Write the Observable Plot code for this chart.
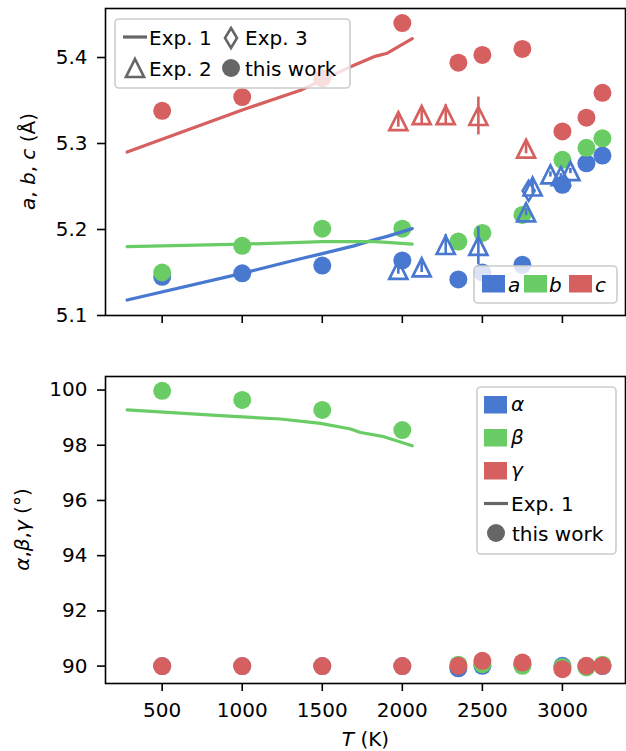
<!DOCTYPE html>
<html>
<head>
<meta charset="utf-8">
<script src="https://cdn.jsdelivr.net/npm/d3@7"></script>
<script src="https://cdn.jsdelivr.net/npm/@observablehq/plot@0.6"></script>
<style>
  body { margin: 0; background: #fff; }
  #chart { width: 626px; }
  #chart svg { display: block; }
</style>
</head>
<body>
<div id="chart"></div>
<script>
// Palette (seaborn "muted")
const blue = "#4878d0", green = "#6acc64", red = "#d65f5f", gray = "#666666";
const font = "DejaVu Sans";

// ---- this work: simulated lattice parameters ----
const simT = [500, 1000, 1500, 2000, 2350, 2500, 2750, 3000, 3150, 3250];
const simA = [5.145, 5.149, 5.158, 5.164, 5.142, 5.150, 5.159, 5.252, 5.277, 5.286];
const simB = [5.150, 5.181, 5.201, 5.201, 5.186, 5.196, 5.217, 5.281, 5.295, 5.306];
const simC = [5.338, 5.354, 5.376, 5.440, 5.394, 5.403, 5.410, 5.314, 5.330, 5.359];
const simAlpha = [90.00, 90.00, 90.00, 90.00, 89.92, 90.01, 90.05, 90.01, 90.00, 90.00];
const simBeta  = [99.97, 99.64, 99.28, 98.55, 90.05, 90.07, 90.01, 89.97, 89.95, 90.05];
const simGamma = [90.00, 90.00, 90.00, 90.00, 90.01, 90.19, 90.13, 89.89, 90.01, 90.01];

// ---- Exp. 1: continuous curves ----
const exp1T = [281, 1000, 1364, 1500, 1698, 1823, 1906, 2062];
const exp1A = [5.118, 5.149, 5.166, 5.172, 5.181, 5.188, 5.192, 5.201];
const exp1B = [5.180, 5.183, 5.185, 5.186, 5.186, 5.186, 5.185, 5.183];
const exp1C = [5.290, 5.339, 5.362, 5.374, 5.391, 5.401, 5.405, 5.422];
const exp1BetaT = [281, 864, 1239, 1489, 1677, 1739, 1885, 2062];
const exp1Beta  = [99.28, 99.07, 98.95, 98.79, 98.59, 98.46, 98.31, 97.98];

// ---- Exp. 2: points with error bars ----
const exp2AT = [1975, 2121, 2271, 2475, 2773, 2814, 2925, 2990, 3050];
const exp2A  = [5.153, 5.156, 5.182, 5.181, 5.220, 5.250, 5.264, 5.262, 5.268];
const exp2AErr = [0.005, 0.006, 0.012, 0.022, 0.004, 0.008, 0.003, 0.003, 0.003];
const exp2CT = [1975, 2121, 2271, 2475, 2773];
const exp2C  = [5.326, 5.333, 5.333, 5.332, 5.294];
const exp2CErr = [0.007, 0.010, 0.012, 0.022, 0.006];

// ---- Exp. 3 ----
const exp3T = [2789];
const exp3A = [5.245];

// Tick values
const xTicks = [500, 1000, 1500, 2000, 2500, 3000];
const yTicksTop = [5.1, 5.2, 5.3, 5.4];
const yTicksBottom = [90, 92, 94, 96, 98, 100];

const rows = (T, v, e) => T.map((t, i) => ({T: t, v: v[i], e: e ? e[i] : 0}));

// matplotlib-style marker shapes
const triangleUp = {
  draw(ctx, size) {
    const r = Math.sqrt(size / Math.PI);
    ctx.moveTo(0, -r); ctx.lineTo(r, r); ctx.lineTo(-r, r); ctx.closePath();
  }
};
const thinDiamond = {
  draw(ctx, size) {
    const r = Math.sqrt(size / Math.PI);
    ctx.moveTo(0, -r); ctx.lineTo(0.6 * r, 0); ctx.lineTo(0, r); ctx.lineTo(-0.6 * r, 0); ctx.closePath();
  }
};

const xDomain = [146, 3394];
const baseStyle = {fontFamily: font, fontSize: "20px", background: "white", color: "black", overflow: "visible"};

const dots = (T, v, fill) => Plot.dot(rows(T, v), {x: "T", y: "v", r: 9, fill, stroke: null});
const curve = (T, v, stroke) => Plot.line(rows(T, v), {x: "T", y: "v", stroke, strokeWidth: 3.2});
const errs = (T, v, e, stroke) => Plot.ruleX(rows(T, v, e), {x: "T", y1: d => d.v - d.e, y2: d => d.v + d.e, stroke, strokeWidth: 2.6});
const tris = (T, v, stroke) => Plot.dot(rows(T, v), {x: "T", y: "v", r: 9, symbol: triangleUp, fill: "none", stroke, strokeWidth: 2.7});

// ---------- top panel: a, b, c ----------
const topChart = Plot.plot({
  width: 626, height: 345,
  marginLeft: 105, marginRight: 1, marginTop: 8, marginBottom: 30,
  style: baseStyle,
  x: {domain: xDomain},
  y: {domain: [5.1, 5.457]},
  marks: [
    dots(simT, simA, blue),
    dots(simT, simB, green),
    dots(simT, simC, red),
    curve(exp1T, exp1A, blue),
    curve(exp1T, exp1B, green),
    curve(exp1T, exp1C, red),
    errs(exp2AT, exp2A, exp2AErr, blue),
    tris(exp2AT, exp2A, blue),
    errs(exp2CT, exp2C, exp2CErr, red),
    tris(exp2CT, exp2C, red),
    Plot.dot(rows(exp3T, exp3A), {x: "T", y: "v", r: 10, symbol: thinDiamond, fill: "none", stroke: blue, strokeWidth: 2.6}),
    Plot.axisY(yTicksTop, {tickSize: 8, tickPadding: 10, tickFormat: d => d.toFixed(1), label: null, strokeWidth: 1.6, fontSize: 20}),
    Plot.axisX(xTicks, {tickSize: 8, tickFormat: () => "", label: null, strokeWidth: 1.6}),
    Plot.frame({stroke: "black", strokeWidth: 1.6})
  ]
});

// ---------- bottom panel: alpha, beta, gamma ----------
const bottomChart = Plot.plot({
  width: 626, height: 406,
  marginLeft: 105, marginRight: 1, marginTop: 31, marginBottom: 68,
  style: baseStyle,
  x: {domain: xDomain},
  y: {domain: [89.37, 100.49]},
  marks: [
    dots(simT, simAlpha, blue),
    dots(simT, simBeta, green),
    dots(simT, simGamma, red),
    curve(exp1BetaT, exp1Beta, green),
    Plot.axisY(yTicksBottom, {tickSize: 8, tickPadding: 10, label: null, strokeWidth: 1.6, fontSize: 20}),
    Plot.axisX(xTicks, {tickSize: 8, tickPadding: 11, tickFormat: d => String(d), label: null, strokeWidth: 1.6, fontSize: 20}),
    Plot.frame({stroke: "black", strokeWidth: 1.6})
  ]
});

document.getElementById("chart").append(topChart, bottomChart);

// ---------- labels and legends ----------
function richText(svg, x, y, parts, opts = {}) {
  const t = svg.append("text")
    .attr("x", x).attr("y", y)
    .attr("font-family", font).attr("font-size", opts.size || 20)
    .attr("fill", "black")
    .attr("text-anchor", opts.anchor || "start");
  if (opts.rotate) t.attr("transform", `rotate(-90 ${x} ${y})`).attr("dy", "0.35em");
  for (const [s, italic] of parts) {
    t.append("tspan").attr("font-style", italic ? "italic" : "normal").text(s);
  }
  return t;
}
function box(g, x, y, w, h) {
  g.append("rect").attr("x", x).attr("y", y).attr("width", w).attr("height", h)
    .attr("rx", 4).attr("fill", "white").attr("fill-opacity", 0.8)
    .attr("stroke", "#cccccc").attr("stroke-width", 1.6);
}
function patch(g, x, y, color) {
  g.append("rect").attr("x", x).attr("y", y).attr("width", 23).attr("height", 17.5).attr("fill", color);
}
const symPath = (sym, r) => d3.symbol().type(sym).size(Math.PI * r * r)();

const s1 = d3.select(topChart);
richText(s1, 28, 161.5, [["a", true], [", ", false], ["b", true], [", ", false], ["c", true], [" (Å)", false]], {anchor: "middle", rotate: true});

// legend: data sources
const l1 = s1.append("g");
box(l1, 115, 19, 235, 69);
l1.append("line").attr("x1", 123).attr("x2", 147).attr("y1", 37).attr("y2", 37).attr("stroke", gray).attr("stroke-width", 3.2);
richText(l1, 149, 45, [["Exp. 1", false]]);
l1.append("path").attr("d", symPath(thinDiamond, 10)).attr("transform", "translate(231,38)").attr("fill", "none").attr("stroke", gray).attr("stroke-width", 2.6);
richText(l1, 245, 45, [["Exp. 3", false]]);
l1.append("path").attr("d", symPath(triangleUp, 9)).attr("transform", "translate(135,68)").attr("fill", "none").attr("stroke", gray).attr("stroke-width", 2.7);
richText(l1, 149, 76, [["Exp. 2", false]]);
l1.append("circle").attr("cx", 231).attr("cy", 68).attr("r", 9).attr("fill", gray);
richText(l1, 245, 76, [["this work", false]]);

// legend: lattice parameters
const l2 = s1.append("g");
box(l2, 474, 266, 143, 37);
patch(l2, 482, 275, blue);   richText(l2, 508, 292, [["a", true]]);
patch(l2, 524, 275, green);  richText(l2, 549, 292, [["b", true]]);
patch(l2, 569, 275, red);    richText(l2, 595, 292, [["c", true]]);

const s2 = d3.select(bottomChart);
richText(s2, 22, 184.5, [["α", true], [",", false], ["β", true], [",", false], ["γ", true], [" (°)", false]], {anchor: "middle", rotate: true});
richText(s2, 365.5, 401, [["T", true], [" (K)", false]], {anchor: "middle"});

// legend: angles
const l3 = s2.append("g");
box(l3, 477, 42, 139, 167);
patch(l3, 484, 51, blue);   richText(l3, 511, 66, [["α", true]]);
patch(l3, 484, 84, green);  richText(l3, 511, 99, [["β", true]]);
patch(l3, 484, 117, red);   richText(l3, 511, 132, [["γ", true]]);
l3.append("line").attr("x1", 484).attr("x2", 508).attr("y1", 158.5).attr("y2", 158.5).attr("stroke", gray).attr("stroke-width", 3.2);
richText(l3, 511, 165.5, [["Exp. 1", false]]);
l3.append("circle").attr("cx", 496).attr("cy", 188).attr("r", 9).attr("fill", gray);
richText(l3, 512, 195.5, [["this work", false]]);
</script>
</body>
</html>
